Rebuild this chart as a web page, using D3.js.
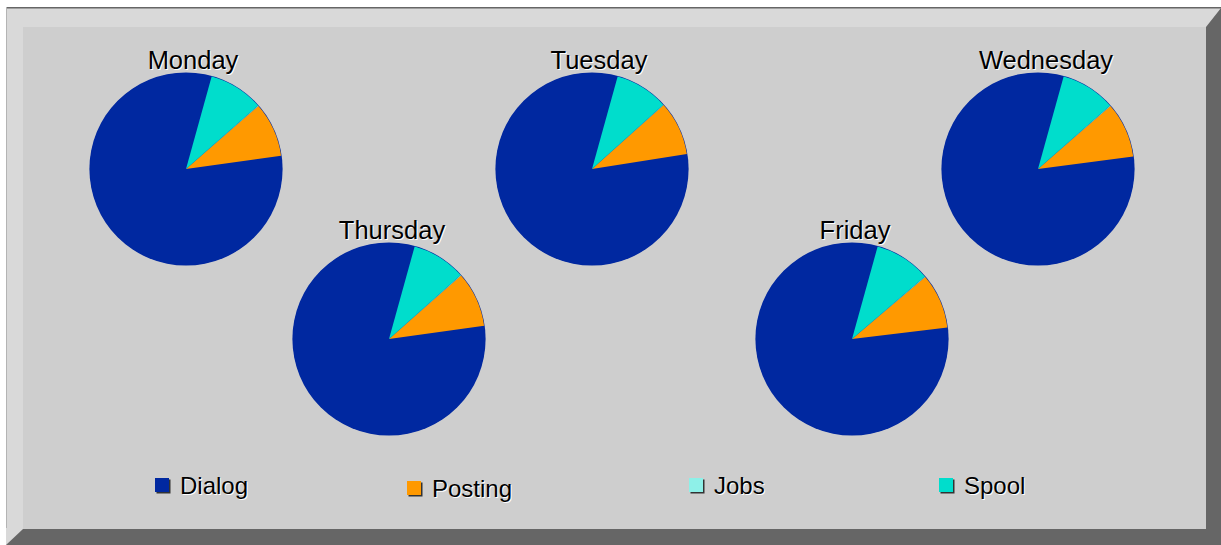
<!DOCTYPE html>
<html>
<head>
<meta charset="utf-8">
<script src="https://cdn.jsdelivr.net/npm/d3@7"></script>
<style>
  html, body { margin: 0; padding: 0; background: #ffffff; }
  svg { display: block; font-family: "Liberation Sans", Arial, sans-serif; }
</style>
</head>
<body>
<svg id="chart" width="1221" height="545"></svg>
<script>
// Weekly work-process share, one pie per day
const days = ["Monday", "Tuesday", "Wednesday", "Thursday", "Friday"];
const categories = ["Dialog", "Posting", "Jobs", "Spool"];
const dialog  = [81.5, 81.8, 81.4, 81.5, 81.2];
const posting = [9.2, 9.1, 9.3, 9.3, 9.3];
const jobs    = [0.1, 0.1, 0.1, 0.1, 0.1];
const spool   = [9.2, 9.0, 9.2, 9.1, 9.4];
const colors  = ["#0028a0", "#ff9900", "#8ef0e8", "#00ddcc"];

// Where each day's pie sits inside the panel
const pieLayout = [
  { cx: 186, cy: 169, dx: 7 },
  { cx: 592, cy: 169, dx: 7 },
  { cx: 1038, cy: 169, dx: 8 },
  { cx: 389, cy: 339, dx: 3 },
  { cx: 852, cy: 339, dx: 3 }
];
const legendX = [155, 407, 689, 939];
const legendDy = [0, 3, 0, 0];

const svg = d3.select("#chart");

// Bevelled frame
const X0 = 6, Y0 = 7, X1 = 1221, Y1 = 545;
const IX0 = 23, IY0 = 27, IX1 = 1206, IY1 = 529;
svg.append("rect").attr("x", X0).attr("y", Y0).attr("width", X1 - X0).attr("height", Y1 - Y0)
  .attr("fill", "#d9d9d9");
svg.append("polygon")
  .attr("points", [[X1, Y0 + 1], [X1, Y1], [X0, Y1], [IX0, IY1], [IX1, IY1], [IX1, IY0]].map(p => p.join(",")).join(" "))
  .attr("fill", "#666666");
svg.append("rect").attr("x", X0).attr("y", Y0).attr("width", X1 - X0).attr("height", 1.5).attr("fill", "#666666");
svg.append("rect").attr("x", X0).attr("y", Y0).attr("width", 1).attr("height", Y1 - Y0 - 17).attr("fill", "#b4b4b4");
svg.append("rect").attr("x", IX0).attr("y", IY0).attr("width", IX1 - IX0).attr("height", IY1 - IY0)
  .attr("fill", "#cecece");

const color = d3.scaleOrdinal().domain(categories).range(colors);
const R = 96;
const start = 15.5 * Math.PI / 180;
// Slices run counter-clockwise from the start angle
const pie = d3.pie().sort(null).value(d => d.value)
  .startAngle(start).endAngle(start - 2 * Math.PI);
const arc = d3.arc().innerRadius(0).outerRadius(R);

function shadowText(g, x, y, txt, size) {
  g.append("text").attr("x", x + 1).attr("y", y + 1).attr("fill", "#ffffff")
    .attr("font-size", size).attr("text-anchor", g.attr("data-anchor") || null).text(txt);
  g.append("text").attr("x", x).attr("y", y).attr("fill", "#000000")
    .attr("font-size", size).attr("text-anchor", g.attr("data-anchor") || null).text(txt);
}

days.forEach((day, i) => {
  const pos = pieLayout[i];
  const values = [dialog[i], posting[i], jobs[i], spool[i]]
    .map((v, k) => ({ key: categories[k], value: v }));
  const g = svg.append("g").attr("transform", `translate(${pos.cx},${pos.cy})`);
  g.append("circle").attr("r", R + 0.6).attr("fill", colors[0]);
  g.selectAll("path.slice").data(pie(values)).join("path")
    .attr("class", "slice")
    .attr("d", arc)
    .attr("fill", d => color(d.data.key));
  const t = svg.append("g").attr("data-anchor", "middle");
  shadowText(t, pos.cx + pos.dx, pos.cy - R - 4.5, day, 25.5);
});

// Legend
categories.forEach((c, k) => {
  const x = legendX[k], y = 478 + legendDy[k];
  const g = svg.append("g");
  g.append("rect").attr("x", x + 1.5).attr("y", y + 1.5).attr("width", 14).attr("height", 14).attr("fill", "#333333");
  g.append("rect").attr("x", x).attr("y", y).attr("width", 14).attr("height", 14).attr("fill", color(c));
  shadowText(g, x + 25, y + 16, c, 24);
});
</script>
</body>
</html>
